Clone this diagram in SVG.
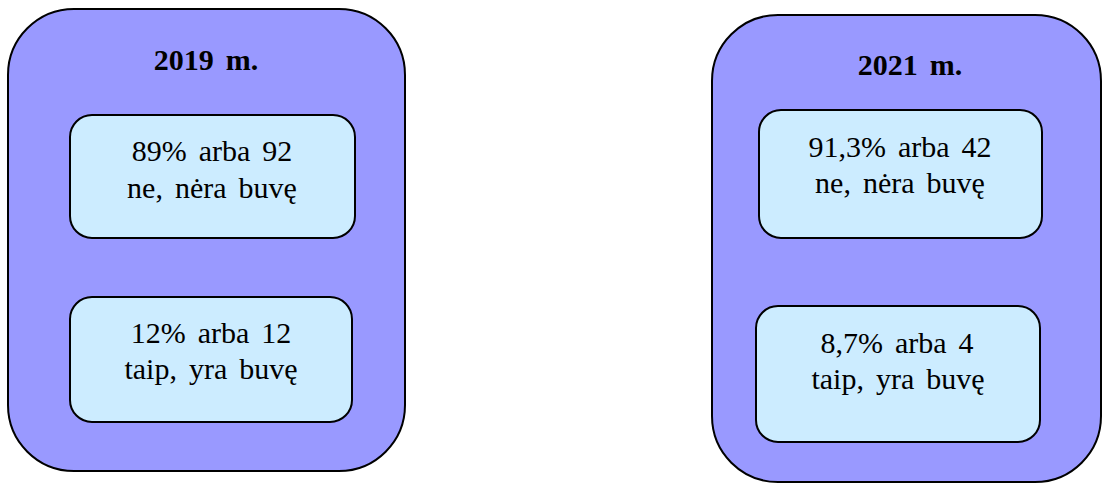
<svg xmlns="http://www.w3.org/2000/svg" width="1103" height="484" viewBox="0 0 1103 484">
<style>
.outer{fill:#9999FF;stroke:#000;stroke-width:2}
.inner{fill:#CCECFF;stroke:#000;stroke-width:2}
</style>
<rect width="1103" height="484" fill="#fff"/>
<g font-family="Liberation Serif, serif" font-size="30px" text-anchor="middle" word-spacing="4.5px" fill="#000">
<g id="panel2019">
<rect class="outer" x="8" y="9" width="397" height="462" rx="66" ry="66"/>
<text x="206" y="70" font-weight="bold">2019 m.</text>
</g>
<g id="box2019a">
<rect class="inner" x="70" y="115" width="285" height="123" rx="22" ry="22"/>
<text x="212" y="161">89% arba 92</text>
<text x="212" y="198">ne, nėra buvę</text>
</g>
<g id="box2019b">
<rect class="inner" x="70" y="297" width="282" height="125" rx="22" ry="22"/>
<text x="211" y="343">12% arba 12</text>
<text x="211" y="379">taip, yra buvę</text>
</g>
<g id="panel2021">
<rect class="outer" x="712" y="15" width="389" height="467" rx="66" ry="66"/>
<text x="910" y="75" font-weight="bold">2021 m.</text>
</g>
<g id="box2021a">
<rect class="inner" x="759" y="110" width="283" height="128" rx="22" ry="22"/>
<text x="900" y="157">91,3% arba 42</text>
<text x="900" y="193">ne, nėra buvę</text>
</g>
<g id="box2021b">
<rect class="inner" x="756" y="306" width="284" height="136" rx="22" ry="22"/>
<text x="897" y="353">8,7% arba 4</text>
<text x="898" y="389">taip, yra buvę</text>
</g>
</g>
<g id="connectors"></g>
</svg>
